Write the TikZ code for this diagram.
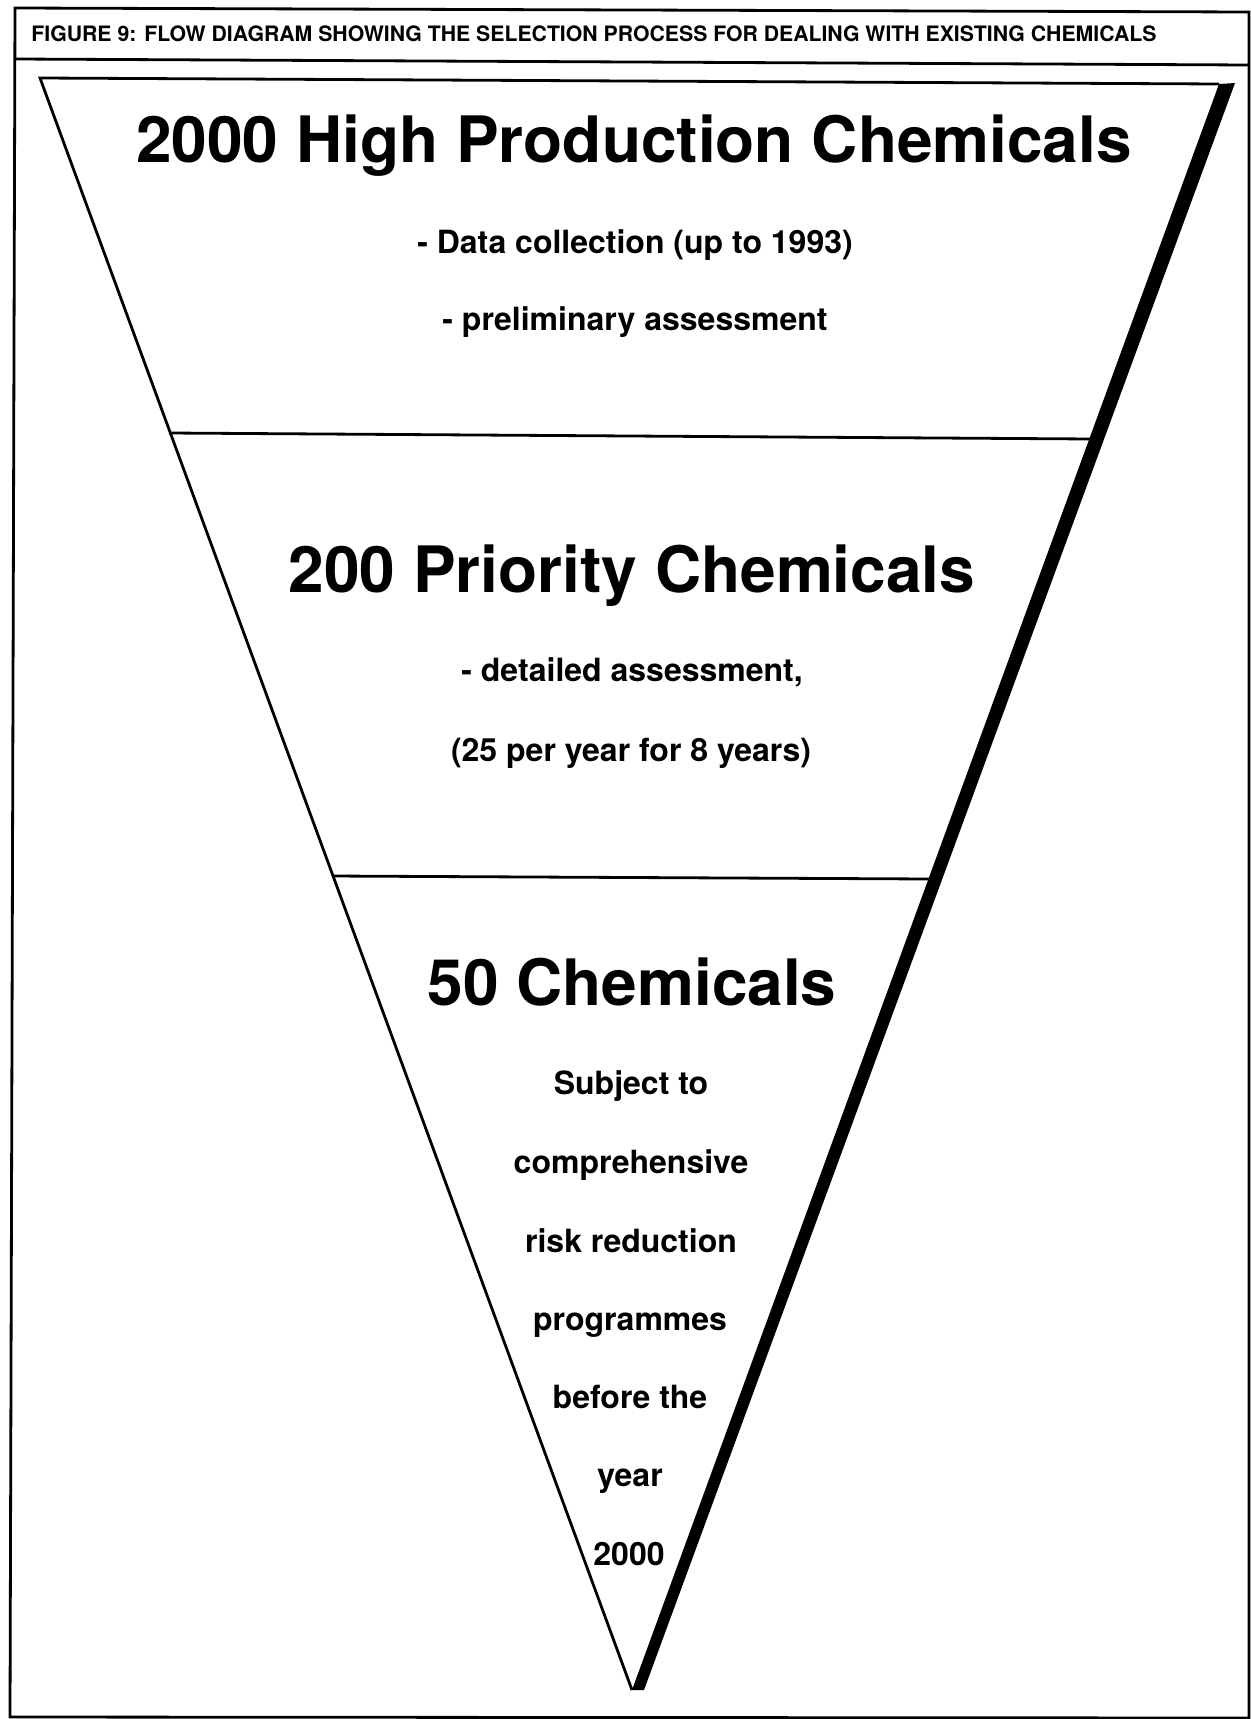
\documentclass[tikz,border=0pt]{standalone}
\usepackage{fontspec}
\setmainfont{TeX Gyre Heros}
\begin{document}
\begin{tikzpicture}[x=0.5pt,y=-0.5pt,
  thinline/.style={line width=1.4pt,line join=miter},
  thickband/.style={fill=black,draw=none},
  titletext/.style={anchor=base west,inner sep=0pt,font=\fontsize{10.62}{12}\selectfont\bfseries},
  bigtext/.style={anchor=base,inner sep=0pt,font=\fontsize{32}{38}\selectfont\bfseries},
  subtext/.style={anchor=base,inner sep=0pt,font=\fontsize{16}{19}\selectfont\bfseries}]
\useasboundingbox (0,0) rectangle (1250,1719);
% frame
\coordinate (fTL) at (15,8);
\coordinate (fTR) at (1249,12);
\coordinate (fBR) at (1249,1718);
\coordinate (fBL) at (10,1717);
\draw[thinline] (fTL) -- (fTR) -- (fBR) -- (fBL) -- cycle;
\coordinate (sepL) at (15,59);
\coordinate (sepR) at (1249,65);
\draw[thinline] (sepL) -- (sepR);
\node[titletext] (title) at (31,41.5) {FIGURE 9: FLOW DIAGRAM SHOWING THE SELECTION PROCESS FOR DEALING WITH EXISTING CHEMICALS};
% funnel
\coordinate (A) at (40,78);
\coordinate (B) at (1219,84);
\coordinate (C) at (632,1690);
\coordinate (Bo) at (1235,83);
\coordinate (Co) at (644,1690);
\draw[thinline] (B) -- (A) -- (C);
\fill[thickband] (B) -- (Bo) -- (Co) -- (C) -- cycle;
\coordinate (d1L) at (169,433);
\coordinate (d1R) at (1092,439);
\coordinate (d2L) at (332,876);
\coordinate (d2R) at (931,879);
\draw[thinline] (d1L) -- (d1R);
\draw[thinline] (d2L) -- (d2R);
% texts
\node[bigtext] (t1) at (634,162) {2000 High Production Chemicals};
\node[subtext] (t1a) at (635,253) {- Data collection (up to 1993)};
\node[subtext] (t1b) at (635,330) {- preliminary assessment};
\node[bigtext] (t2) at (632,592) {200 Priority Chemicals};
\node[subtext] (t2a) at (632,681) {- detailed assessment,};
\node[subtext] (t2b) at (631,761) {(25 per year for 8 years)};
\node[bigtext] (t3) at (632,1005) {50 Chemicals};
\node[subtext] (t3a) at (631,1094) {Subject to};
\node[subtext] (t3b) at (631,1173) {comprehensive};
\node[subtext] (t3c) at (631,1252) {risk reduction};
\node[subtext] (t3d) at (630,1330) {programmes};
\node[subtext] (t3e) at (630,1408) {before the};
\node[subtext] (t3f) at (630,1486) {year};
\node[subtext] (t3g) at (629,1565) {2000};
\end{tikzpicture}
\end{document}
